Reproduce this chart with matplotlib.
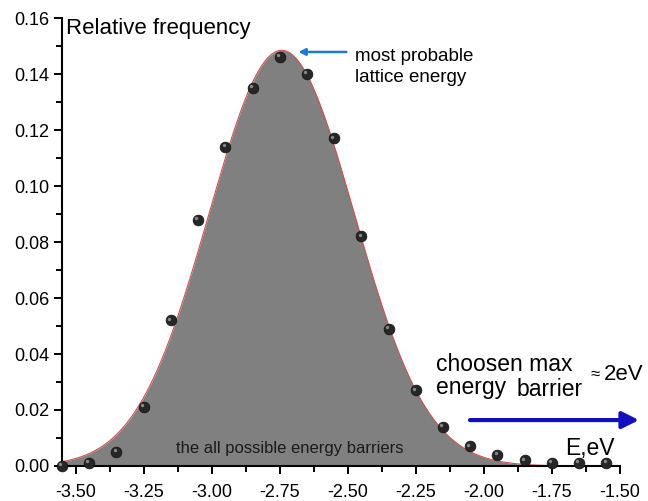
import numpy as np
import matplotlib.pyplot as plt
from matplotlib.ticker import MultipleLocator, FormatStrFormatter
from matplotlib.transforms import offset_copy

plt.rcParams['font.family'] = ['Liberation Sans', 'DejaVu Sans']

# data points (relative frequency of lattice energies)
energy = [-3.55, -3.45, -3.35, -3.25, -3.15, -3.05, -2.95, -2.85, -2.75, -2.65, -2.55,
          -2.45, -2.35, -2.25, -2.15, -2.05, -1.95, -1.85, -1.75, -1.65, -1.55]
freq = [0.000, 0.001, 0.005, 0.021, 0.052, 0.088, 0.114, 0.135, 0.146, 0.140, 0.117,
        0.082, 0.049, 0.027, 0.014, 0.007, 0.004, 0.002, 0.001, 0.001, 0.001]

# gaussian fit parameters
fit_amp = 0.1485
fit_center = -2.743
fit_sigma = 0.267

xfit = np.linspace(-3.55, -1.50, 400)
yfit = fit_amp * np.exp(-(xfit - fit_center) ** 2 / (2 * fit_sigma ** 2))

fig = plt.figure(figsize=(6.48, 5.01), dpi=100)
ax = fig.add_axes([0.0957, 0.0699, 0.861, 0.894])

# filled fit curve
ax.fill_between(xfit, 0, yfit, color='#808080', lw=0, zorder=1)
ax.plot(xfit, yfit, color='#d05050', lw=0.8, zorder=2)

# sphere-like points
ax.scatter(energy, freq, s=60, color='#262626', edgecolors='#111111', lw=0.5, zorder=3, clip_on=False)
hl = offset_copy(ax.transData, fig=fig, x=-1.3, y=1.3, units='points')
ax.scatter(energy, freq, s=6, color='#a0a0a0', lw=0, alpha=0.8, zorder=4, transform=hl, clip_on=False)

ax.set_xlim(-3.55, -1.50)
ax.set_ylim(0, 0.16)
ax.xaxis.set_major_locator(MultipleLocator(0.25))
ax.xaxis.set_minor_locator(MultipleLocator(0.125))
ax.yaxis.set_major_locator(MultipleLocator(0.02))
ax.yaxis.set_minor_locator(MultipleLocator(0.01))
ax.xaxis.set_major_formatter(FormatStrFormatter('%.2f'))
ax.yaxis.set_major_formatter(FormatStrFormatter('%.2f'))

for s in ['top', 'right']:
    ax.spines[s].set_visible(False)
for s in ['left', 'bottom']:
    ax.spines[s].set_linewidth(1.5)
ax.tick_params(which='major', direction='out', length=6, width=1.4, labelsize=13, pad=3)
ax.tick_params(axis='x', which='major', pad=7)
ax.tick_params(which='minor', direction='out', length=4, width=1.4)

# labels / annotations
ax.text(-3.537, 0.1564, 'Relative frequency', fontsize=16, va='center', ha='left')
ax.text(-1.61, 0.0064, 'E,eV', fontsize=16.5, va='center', ha='center')
ax.text(-2.713, 0.0061, 'the all possible energy barriers', fontsize=12, va='center', ha='center', color='#1a1a1a')
ax.text(-2.474, 0.1425, 'most probable\nlattice energy', fontsize=13.5, va='center', ha='left', linespacing=1.25)
ax.annotate('', xy=(-2.692, 0.1479), xytext=(-2.495, 0.1479),
            arrowprops=dict(arrowstyle='-|>', color='#1a7ad4', lw=1.8, mutation_scale=10))

ax.text(-2.175, 0.0361, 'choosen max', fontsize=16.5, va='center', ha='left')
ax.text(-2.175, 0.0282, 'energy', fontsize=16.5, va='center', ha='left')
ax.text(-1.879, 0.0272, 'barrier', fontsize=16.5, va='center', ha='left')
ax.text(-1.61, 0.0326, '≈', fontsize=12, va='center', ha='left')
ax.text(-1.56, 0.0326, '2eV', fontsize=16, va='center', ha='left')
ax.annotate('', xy=(-1.43, 0.0164), xytext=(-2.051, 0.0164), annotation_clip=False,
            arrowprops=dict(arrowstyle='-|>', color='#1010c0', lw=3, mutation_scale=25,
                            shrinkA=0, shrinkB=0))

fig.savefig('out.png', dpi=100)
